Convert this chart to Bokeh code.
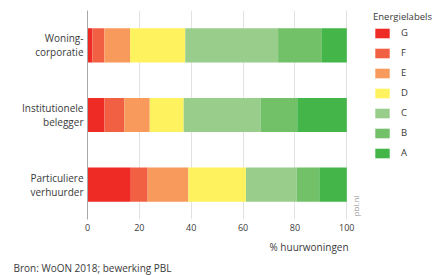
from bokeh.plotting import figure
from bokeh.models import (ColumnDataSource, FactorRange, Range1d, Legend, LegendItem,
                          Label, FixedTicker, Title)
from bokeh.embed import file_html
from bokeh.resources import INLINE
import math

categories = ["Woning-\ncorporatie", "Institutionele\nbelegger", "Particuliere\nverhuurder"]
labels = ["G", "F", "E", "D", "C", "B", "A"]
colors = ["#ee2b25", "#f26043", "#f79a5b", "#fff25f", "#98cd8b", "#72c068", "#43b549"]
G = [1.9, 6.5, 16.7]
F = [4.6, 7.7, 6.5]
E = [9.9, 9.8, 15.7]
D = [21.3, 13.1, 22.2]
C = [35.8, 29.6, 19.6]
B = [16.9, 14.2, 8.7]
A = [9.6, 19.1, 10.6]
x_ticks = [0, 20, 40, 60, 80, 100]

FONT = "Open Sans"
TXT = "#3a3a3a"

source = ColumnDataSource(dict(cat=categories, G=G, F=F, E=E, D=D, C=C, B=B, A=A))

W, H = 441, 275
LEFT, TOP, BOTTOM = 87, 10, 55
PX_PER_UNIT = 2.593
x_end = (W - LEFT) / PX_PER_UNIT

p = figure(width=W, height=H, output_backend="svg", toolbar_location=None,
           y_range=FactorRange(factors=categories[::-1], range_padding=0),
           x_range=Range1d(0, x_end),
           min_border_left=LEFT, min_border_right=0, min_border_top=TOP,
           min_border_bottom=BOTTOM)
p.outline_line_color = None
p.background_fill_color = "white"
p.border_fill_color = "white"

renderers = p.hbar_stack(labels, y="cat", height=0.49, color=colors, source=source,
                         line_color=None)

p.xgrid.ticker = FixedTicker(ticks=x_ticks)
p.xgrid.grid_line_color = "#e2e2e2"
p.xgrid.grid_line_width = 1
p.ygrid.grid_line_color = None

xa = p.xaxis[0]
xa.ticker = FixedTicker(ticks=x_ticks)
xa.axis_line_color = None
xa.major_tick_line_color = None
xa.minor_tick_line_color = None
xa.major_tick_out = 0
xa.major_label_standoff = 4
xa.major_label_text_font = FONT
xa.major_label_text_font_size = "9px"
xa.major_label_text_color = TXT

ya = p.yaxis[0]
ya.axis_line_color = "#a8a8a8"
ya.major_tick_line_color = None
ya.minor_tick_line_color = None
ya.major_tick_out = 0
ya.major_label_standoff = 4
ya.major_label_text_font = FONT
ya.major_label_text_font_size = "10px"
ya.major_label_text_color = TXT
ya.major_label_text_line_height = 1.0

items = [LegendItem(label=l, renderers=[r]) for l, r in zip(labels, renderers)]
legend = Legend(items=items, location=(286, 60), title="Energielabels",
                orientation="vertical", margin=0, padding=0,
                border_line_color=None, background_fill_alpha=0,
                glyph_width=18, glyph_height=12, label_height=12, label_width=10,
                spacing=7, label_standoff=10,
                label_text_font=FONT, label_text_font_size="9.5px", label_text_color=TXT,
                title_text_font=FONT, title_text_font_size="9.5px", title_text_color=TXT,
                title_text_font_style="normal", title_standoff=3)
p.add_layout(legend)

p.add_layout(Label(x=268, y=3, x_units="screen", y_units="screen", text="pbl.nl",
                   angle=math.pi / 2, text_align="left", text_baseline="middle",
                   text_font=FONT, text_font_size="8px", text_color="#9a9a9a"))

t1 = Title(text="% huurwoningen", align="left", offset=182, standoff=9,
           text_font=FONT, text_font_size="10px", text_color=TXT, text_font_style="normal")
t2 = Title(text="Bron: WoON 2018; bewerking PBL", align="left", offset=-74, standoff=1,
           text_font=FONT, text_font_size="10px", text_color=TXT, text_font_style="normal")
p.add_layout(t1, "below")
p.add_layout(t2, "below")

open("out.html", "w").write(file_html(p, INLINE))
